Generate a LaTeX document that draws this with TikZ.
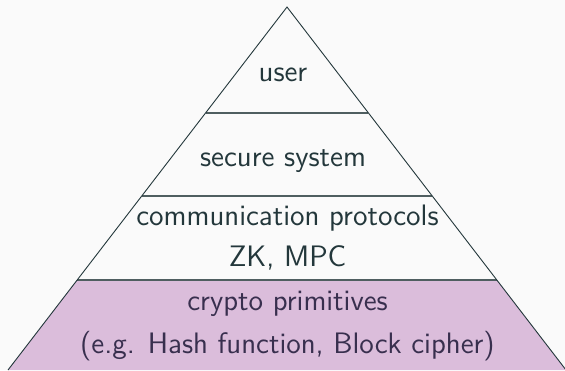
\documentclass[tikz,border=0pt]{standalone}
\usepackage{tikz}
\usetikzlibrary{calc}
\definecolor{bgwhite}{HTML}{FAFAFA}
\definecolor{textdark}{HTML}{23373B}
\definecolor{layerline}{HTML}{4F5E60}
\definecolor{primfill}{HTML}{DBBDDB}
\definecolor{primtext}{HTML}{382F4E}

\begin{document}
\begin{tikzpicture}[x=0.5pt,y=-0.5pt,
    layertext/.style={text=textdark, font=\sffamily\fontsize{14.8}{17}\selectfont, inner sep=0pt, anchor=base}]
    \fill[bgwhite] (0,0) rectangle (565,370);
    \useasboundingbox (0,0) rectangle (565,370);
    \coordinate (top) at (287,7);
    \coordinate (bl) at (8,370);
    \coordinate (br) at (566,370);
    % bottom layer
    \fill[primfill] ($(top)!0.752!(bl)$) -- ($(top)!0.752!(br)$) -- (br) -- (bl) -- cycle;
    % layer borders
    \foreach \t in {0.292,0.5207,0.752}{
        \draw[layerline, line width=1pt] ($(top)!\t!(bl)$) -- ($(top)!\t!(br)$);
    }
    \draw[textdark, line width=0.45pt] (bl) -- (top) -- (br);
    % labels
    \node[layertext] (user) at (283,81) {user};
    \node[layertext] (secure) at (283,166) {secure system};
    \node[layertext] (comm) at (287.5,225) {communication protocols};
    \node[layertext] (zkmpc) at (287.5,266) {ZK, MPC};
    \node[layertext, text=primtext] (prim) at (287.5,310) {crypto primitives};
    \node[layertext, text=primtext] (hash) at (287.5,353) {(e.g. Hash function, Block cipher)};
\end{tikzpicture}
\end{document}
